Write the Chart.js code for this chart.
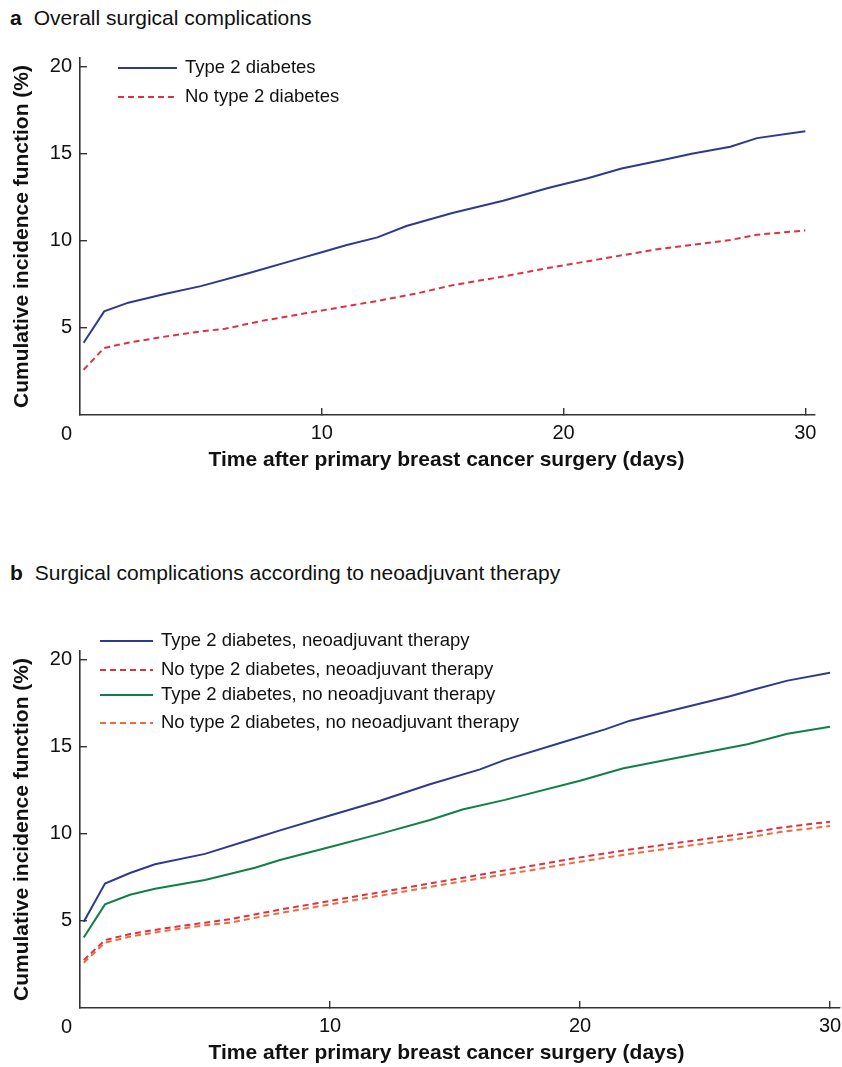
<!DOCTYPE html>
<html><head><meta charset="utf-8">
<script src="https://cdn.jsdelivr.net/npm/chart.js@4.4.0/dist/chart.umd.min.js"></script>
<style>
html,body{margin:0;padding:0;background:#fff;overflow:hidden;}
body{width:842px;height:1067px;position:relative;font-family:"Liberation Sans",Arial,sans-serif;color:#111;}
.ptitle{position:absolute;left:10px;font-size:21px;line-height:24px;white-space:nowrap;}
.ptitle b{margin-right:12px;}
#wa{position:absolute;left:0;top:0;width:842px;height:500px;}
#wb{position:absolute;left:0;top:536px;width:842px;height:530px;}
</style></head>
<body>
<div class="ptitle" style="top:6px"><b>a</b>Overall surgical complications</div>
<div class="ptitle" style="top:561px"><b>b</b>Surgical complications according to neoadjuvant therapy</div>
<div id="wa"><canvas id="ca" width="842" height="500"></canvas></div>
<div id="wb"><canvas id="cb" width="842" height="530"></canvas></div>
<script>
// ---------- data ----------
const xTickValues = [10, 20, 30];
const yTickValues = [5, 10, 15, 20];
const xTitle = 'Time after primary breast cancer surgery (days)';
const yTitle = 'Cumulative incidence function (%)';

// Panel a
const labelsA = ['Type 2 diabetes', 'No type 2 diabetes'];
const daysA_t2d = [0.15, 1, 2, 3.5, 5, 7, 9, 10, 11, 12.3, 13.5, 15.4, 17.5, 19.4, 21, 22.4, 24.3, 25.3, 26.9, 28, 30];
const valsA_t2d = [4.15, 5.95, 6.45, 6.95, 7.4, 8.15, 8.95, 9.35, 9.75, 10.2, 10.85, 11.6, 12.3, 13.05, 13.6, 14.15, 14.7, 15.0, 15.4, 15.9, 16.3];
const daysA_no = [0.15, 1, 2, 3.5, 5, 6, 7.5, 10, 12.3, 14, 15.4, 17.5, 19.4, 21.5, 23.8, 26.9, 28, 30];
const valsA_no = [2.6, 3.85, 4.15, 4.5, 4.8, 4.95, 5.4, 6.0, 6.55, 7.0, 7.45, 7.95, 8.45, 8.95, 9.5, 10.05, 10.35, 10.6];

// Panel b
const labelsB = ['Type 2 diabetes, neoadjuvant therapy', 'No type 2 diabetes, neoadjuvant therapy',
                 'Type 2 diabetes, no neoadjuvant therapy', 'No type 2 diabetes, no neoadjuvant therapy'];
const daysB_t2dNeo = [0.15, 1, 2, 3, 5, 7, 8, 10, 12, 14, 16, 17, 19.5, 21, 22, 24, 26, 27, 28.3, 30];
const valsB_t2dNeo = [4.95, 7.15, 7.75, 8.25, 8.85, 9.75, 10.2, 11.05, 11.9, 12.85, 13.7, 14.25, 15.35, 16.0, 16.5, 17.2, 17.9, 18.3, 18.8, 19.25];
const daysB_noNeo = [0.15, 1, 2, 3.5, 5, 6, 8, 10, 12, 14, 16, 18, 20, 22, 24, 26.5, 28, 30];
const valsB_noNeo = [2.75, 3.9, 4.25, 4.6, 4.9, 5.1, 5.65, 6.15, 6.65, 7.15, 7.65, 8.15, 8.65, 9.1, 9.5, 10.0, 10.35, 10.7];
const daysB_t2dNoNeo = [0.15, 1, 2, 3, 5, 7, 8, 10, 12, 14, 15.3, 17, 20, 21.7, 24, 26.7, 28.3, 30];
const valsB_t2dNoNeo = [4.05, 5.95, 6.5, 6.85, 7.35, 8.05, 8.5, 9.25, 10.0, 10.8, 11.4, 11.95, 13.05, 13.75, 14.4, 15.15, 15.75, 16.15];
const daysB_noNoNeo = [0.15, 1, 2, 3.5, 5, 6, 8, 10, 12, 14, 16, 18, 20, 22, 24, 26.5, 28, 30];
const valsB_noNoNeo = [2.6, 3.75, 4.1, 4.45, 4.75, 4.9, 5.45, 5.95, 6.45, 6.95, 7.45, 7.9, 8.4, 8.85, 9.25, 9.75, 10.1, 10.45];

// ---------- styling ----------
const FONT = '"Liberation Sans", Arial, Helvetica, sans-serif';
Chart.defaults.font.family = FONT;
Chart.defaults.color = '#111';
const BLUE = '#2d3a8f', RED = '#dc3340', GREEN = '#118048', ORANGE = '#f26a3c';
const AXIS = '#333';

const pts = (d, v) => d.map((x, i) => ({x: x, y: v[i]}));
const ds = (label, d, v, color, dashed) => ({
  label, data: pts(d, v), borderColor: color, borderWidth: 2,
  borderDash: dashed ? [6, 4] : [], pointRadius: 0, tension: 0, fill: false
});

const decor = {
  id: 'decor',
  afterDraw(chart, args, o) {
    const ctx = chart.ctx, ca = chart.chartArea;
    ctx.save();
    ctx.fillStyle = '#111';
    ctx.font = '20px ' + FONT;
    ctx.textAlign = 'right'; ctx.textBaseline = 'middle';
    ctx.fillText('0', ca.left - 8, ca.bottom + 19);
    ctx.font = 'bold 21px ' + FONT;
    ctx.textAlign = 'center';
    ctx.fillText(o.xTitle, o.xTitleX, o.xTitleY);
    ctx.font = '18.5px ' + FONT;
    ctx.textAlign = 'left';
    chart.data.datasets.forEach((d, i) => {
      const y = o.legendY[i];
      ctx.strokeStyle = d.borderColor; ctx.lineWidth = d.borderWidth;
      ctx.setLineDash(d.borderDash || []);
      ctx.beginPath(); ctx.moveTo(o.legendX, y); ctx.lineTo(o.legendX + o.legendLen, y); ctx.stroke();
      ctx.setLineDash([]);
      ctx.fillText(d.label, o.legendX + o.legendLen + 8, y);
    });
    ctx.restore();
  }
};

function scales(xMax, yMax, xh) {
  return {
    x: {
      type: 'linear', min: 0, max: xMax,
      afterBuildTicks: s => { s.ticks = xTickValues.map(v => ({value: v})); },
      afterFit: s => { s.height = xh; s.paddingRight = 0; s.paddingLeft = 0; },
      border: {color: AXIS, width: 1.6},
      grid: {drawOnChartArea: false, tickLength: -7, color: AXIS, lineWidth: 1.4},
      ticks: {padding: 13, font: {size: 20}, color: '#111', maxRotation: 0, autoSkip: false},
      title: {display: false}
    },
    y: {
      type: 'linear', min: 0, max: yMax,
      afterBuildTicks: s => { s.ticks = yTickValues.map(v => ({value: v})); },
      afterFit: s => { s.width = 80; s.paddingTop = 0; s.paddingBottom = 0; },
      border: {color: AXIS, width: 1.6},
      grid: {drawOnChartArea: false, tickLength: -7, color: AXIS, lineWidth: 1.4},
      ticks: {padding: 15, font: {size: 20}, color: '#111', autoSkip: false},
      title: {display: true, text: yTitle, font: {size: 21, weight: 'bold'}, color: '#111', padding: {top: 10, bottom: 0}}
    }
  };
}

new Chart(document.getElementById('ca'), {
  type: 'line',
  data: {datasets: [
    ds(labelsA[0], daysA_t2d, valsA_t2d, BLUE, false),
    ds(labelsA[1], daysA_no, valsA_no, RED, true)
  ]},
  options: {
    responsive: false, animation: false, devicePixelRatio: 1,
    layout: {padding: {top: 58, right: 27, bottom: 25, left: 0}},
    plugins: {legend: {display: false}, tooltip: {enabled: false},
      decor: {xTitle: xTitle, xTitleX: 446.5, xTitleY: 460, legendX: 118, legendLen: 59, legendY: [68, 97]}},
    scales: scales(30.4, 20.5, 60)
  },
  plugins: [decor]
});

new Chart(document.getElementById('cb'), {
  type: 'line',
  data: {datasets: [
    ds(labelsB[0], daysB_t2dNeo, valsB_t2dNeo, BLUE, false),
    ds(labelsB[1], daysB_noNeo, valsB_noNeo, RED, true),
    ds(labelsB[2], daysB_t2dNoNeo, valsB_t2dNoNeo, GREEN, false),
    ds(labelsB[3], daysB_noNoNeo, valsB_noNoNeo, ORANGE, true)
  ]},
  options: {
    responsive: false, animation: false, devicePixelRatio: 1,
    layout: {padding: {top: 115, right: 2, bottom: 0, left: 0}},
    plugins: {legend: {display: false}, tooltip: {enabled: false},
      decor: {xTitle: xTitle, xTitleX: 446.5, xTitleY: 517, legendX: 100, legendLen: 53, legendY: [105, 134, 159, 187]}},
    scales: scales(30.4, 20.5, 58)
  },
  plugins: [decor]
});
</script>
</body></html>
